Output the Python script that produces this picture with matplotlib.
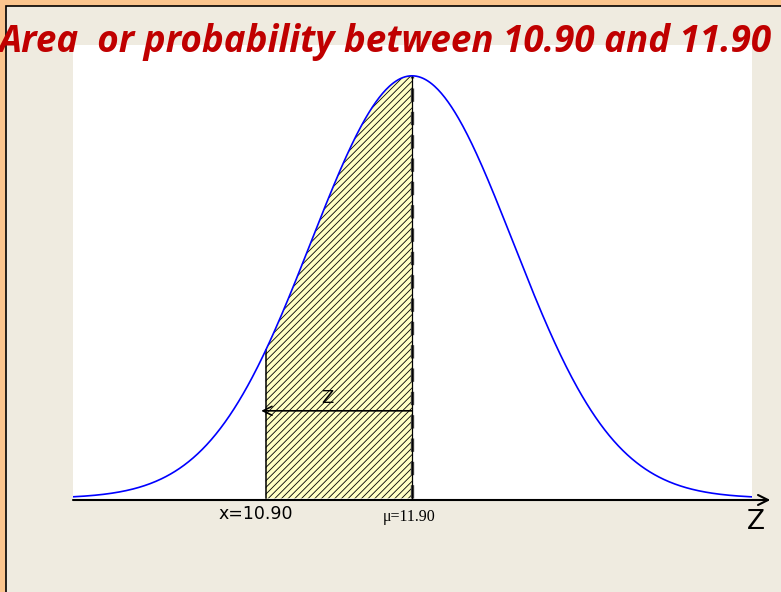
import numpy as np
import matplotlib
matplotlib.use('Agg')
import matplotlib.pyplot as plt
from matplotlib.patches import Rectangle

# Distribution parameters and the bounds of the shaded region
mu = 11.90
sigma = 0.69
x_value = 10.90
x_label = 'x=10.90'
mu_label = 'μ=11.90'
title = 'Area  or probability between 10.90 and 11.90'

plt.rcParams['hatch.linewidth'] = 0.6

fig = plt.figure(figsize=(7.81, 5.92), dpi=100)
fig.patch.set_facecolor('#FBC58E')

# slide panel with thin black frame
panel = Rectangle((6 / 781, -0.01), 1, 1.01 - 6 / 592, transform=fig.transFigure,
                  facecolor='#EFEBE0', edgecolor='black', linewidth=1.2, zorder=-10)
fig.add_artist(panel)

ax = fig.add_axes([73 / 781, 1 - 500 / 592, 679 / 781, 455 / 592])
ax.set_facecolor('white')

xmin = mu - 3.356 * sigma
xmax = mu + 3.366 * sigma
x = np.linspace(xmin, xmax, 600)
pdf = np.exp(-0.5 * ((x - mu) / sigma) ** 2) / (sigma * np.sqrt(2 * np.pi))
peak = pdf.max()

ax.set_xlim(xmin, xmax)
ax.set_ylim(-0.004 * peak, peak / 0.932)

# shaded area between x_value and mu
mask = (x >= x_value) & (x <= mu)
ax.fill_between(x[mask], 0, pdf[mask], facecolor='#FFFFC4', hatch='/////',
                edgecolor='black', linewidth=0, zorder=1)

ax.plot(x, pdf, color='#0000FF', linewidth=1.2, zorder=3)

# boundary lines
y_left = np.exp(-0.5 * ((x_value - mu) / sigma) ** 2) / (sigma * np.sqrt(2 * np.pi))
ax.plot([x_value, x_value], [0, y_left], color='black', linewidth=1.1, zorder=2)
ax.plot([mu, mu], [0, peak], color='#444444', linewidth=2.4,
        linestyle=(0, (4, 3)), zorder=2)
ax.plot([mu, mu], [0, peak], color='black', linewidth=0.9, zorder=2)

# z arrow
y_arrow = 0.193 * peak / 0.932
ax.annotate('', xy=(x_value - 0.03, y_arrow), xytext=(mu, y_arrow),
            arrowprops=dict(arrowstyle='->', color='black', lw=1.2,
                            mutation_scale=16, shrinkA=0, shrinkB=0), zorder=4)
ax.text((x_value + mu) / 2 - 0.08, y_arrow + 0.01 * peak, 'Z', fontsize=13,
        ha='center', va='bottom', family='DejaVu Sans', color='black')

# horizontal axis with arrow
ax.annotate('', xy=(1.027, 0), xytext=(0, 0), xycoords='axes fraction',
            textcoords='axes fraction',
            arrowprops=dict(arrowstyle='->', color='black', lw=1.5,
                            mutation_scale=18, shrinkA=0, shrinkB=0),
            annotation_clip=False)

for s in ax.spines.values():
    s.set_visible(False)
ax.set_xticks([])
ax.set_yticks([])

ax.text(x_value - 0.07, -0.015 * peak, x_label, fontsize=12.5, ha='center',
        va='top', family='DejaVu Sans', color='black')
ax.text(mu - 0.02, -0.025 * peak, mu_label, fontsize=11.5, ha='center', va='top',
        family='Liberation Serif', color='black')
ax.text(1.005, -0.02, 'Z', transform=ax.transAxes, fontsize=19, ha='center',
        va='top', family='DejaVu Sans', color='black')

fig.text(-0.002, 1 - 42 / 592, title, fontsize=26.5, fontweight='bold',
         style='italic', family='Open Sans', color='#C00000', ha='left',
         va='center')

fig.savefig('out.png', dpi=100, facecolor=fig.get_facecolor())
